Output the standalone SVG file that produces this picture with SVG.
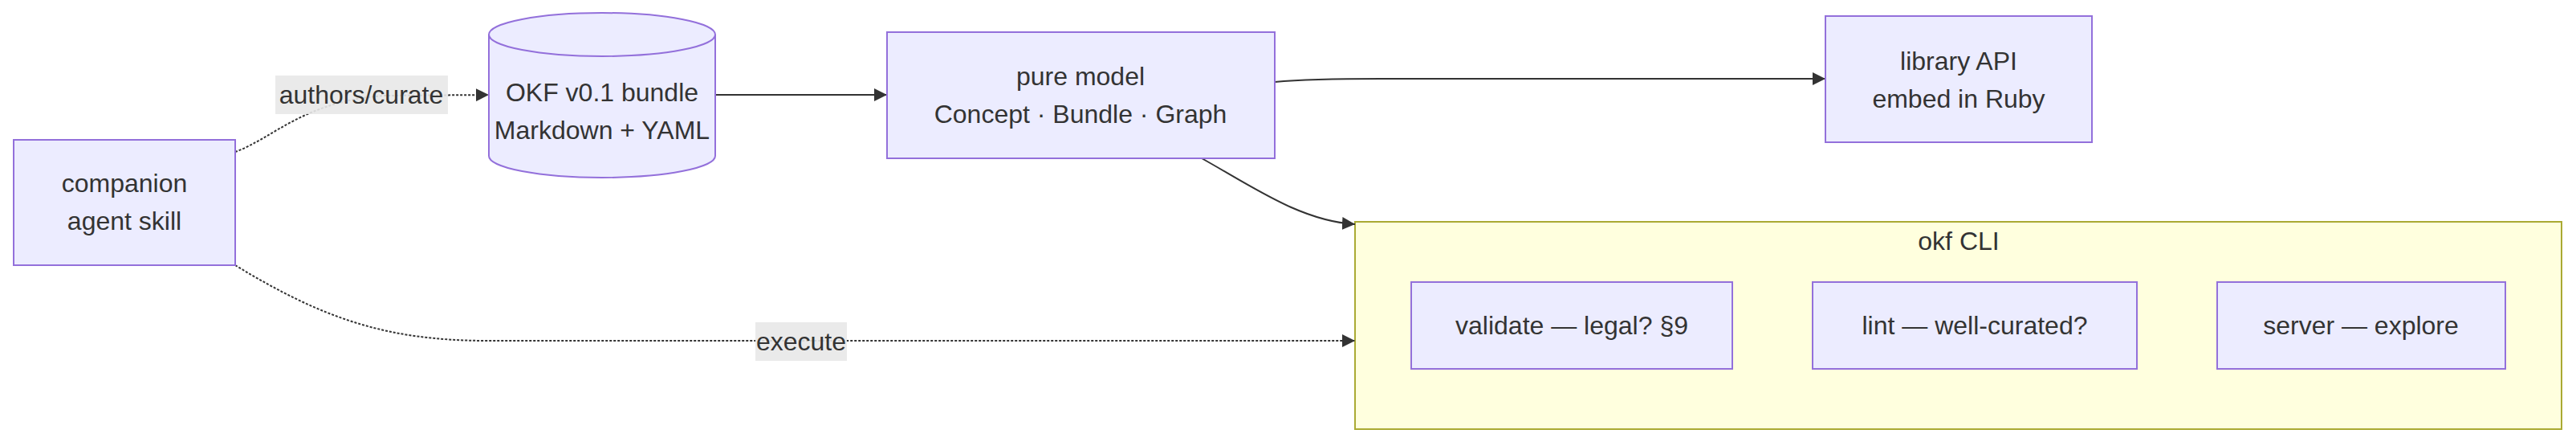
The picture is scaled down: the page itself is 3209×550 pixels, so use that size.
<svg xmlns="http://www.w3.org/2000/svg" width="3209" height="550" viewBox="0 0 3209 550">
<style>
text{font-family:"Liberation Sans",Arial,sans-serif;font-size:32px;fill:#333333;text-anchor:middle;dominant-baseline:central}
.node{fill:#ECECFF;stroke:#9370DB;stroke-width:2}
.cluster{fill:#ffffde;stroke:#aaaa33;stroke-width:2}
.edge{fill:none;stroke:#333333;stroke-width:2}
.dotted{stroke-dasharray:3 2}
.lbl{fill:#e8e8e8;opacity:0.9}
</style>
<defs>
<marker id="arrow" viewBox="0 0 10 10" refX="10" refY="5" markerUnits="userSpaceOnUse" markerWidth="16" markerHeight="16" preserveAspectRatio="none" orient="auto">
<path d="M0,0 L10,5 L0,10 z" fill="#333333"/>
</marker>
</defs>
<g id="cluster-okfcli">
<rect class="cluster" x="1688" y="276" width="1503" height="258"/>
<text x="2440" y="300">okf CLI</text>
</g>
<g id="edges">
<path class="edge dotted" d="M293,189 C340,172 380,125 480,119 L609,118" marker-end="url(#arrow)"/>
<path class="edge" d="M891,118 L1105,118" marker-end="url(#arrow)"/>
<path class="edge" d="M1588,102 C1620,99 1650,98 1720,98 L2274,98" marker-end="url(#arrow)"/>
<path class="edge" d="M1497,197 C1560,232 1620,275 1688,279" marker-end="url(#arrow)"/>
<path class="edge dotted" d="M293,330 C400,395 480,424 607,424 L1688,424" marker-end="url(#arrow)"/>
</g>
<g id="edge-labels">
<rect class="lbl" x="343" y="94" width="215" height="48"/>
<text x="450" y="118">authors/curate</text>
<rect class="lbl" x="941" y="401" width="114" height="48"/>
<text x="998" y="425">execute</text>
</g>
<g id="node-companion">
<rect class="node" x="17" y="174" width="276" height="156"/>
<text x="155" y="228">companion</text>
<text x="155" y="275">agent skill</text>
</g>
<g id="node-bundle">
<path class="node" d="M609,43 a141,27 0 0,0 282,0 a141,27 0 0,0 -282,0 l0,151 a141,27 0 0,0 282,0 l0,-151"/>
<text x="750" y="115">OKF v0.1 bundle</text>
<text x="750" y="162">Markdown + YAML</text>
</g>
<g id="node-model">
<rect class="node" x="1105" y="40" width="483" height="157"/>
<text x="1346" y="95">pure model</text>
<text x="1346" y="142">Concept · Bundle · Graph</text>
</g>
<g id="node-library">
<rect class="node" x="2274" y="20" width="332" height="157"/>
<text x="2440" y="76">library API</text>
<text x="2440" y="123">embed in Ruby</text>
</g>
<g id="node-validate">
<rect class="node" x="1758" y="351" width="400" height="108"/>
<text x="1958" y="405">validate — legal? §9</text>
</g>
<g id="node-lint">
<rect class="node" x="2258" y="351" width="404" height="108"/>
<text x="2460" y="405">lint — well-curated?</text>
</g>
<g id="node-server">
<rect class="node" x="2762" y="351" width="359" height="108"/>
<text x="2941" y="405">server — explore</text>
</g>
</svg>
